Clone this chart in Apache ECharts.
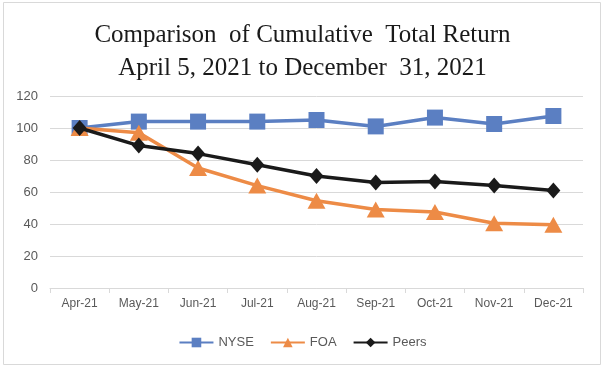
<!DOCTYPE html>
<html><head><meta charset="utf-8">
<script src="https://cdn.jsdelivr.net/npm/echarts@6/dist/echarts.min.js"></script>
<style>html,body{margin:0;padding:0;background:#fff}#c{width:605px;height:369px}</style>
</head><body><div id="c"></div>
<script>
const categories = ['Apr-21','May-21','Jun-21','Jul-21','Aug-21','Sep-21','Oct-21','Nov-21','Dec-21'];
const nyse = [100, 104, 104, 104, 105, 101, 106.5, 102.5, 107.5];
const foa = [100, 97, 75, 64, 54.5, 49, 47.5, 40.5, 39.5];
const peers = [100, 89, 84, 77, 70, 66, 66.5, 64, 61];
const titleLines = ['Comparison  of Cumulative  Total Return', 'April 5, 2021 to December  31, 2021'];

const chart = echarts.init(document.getElementById('c'));
chart.setOption({
  backgroundColor: '#fff',
  animation: false,
  graphic: [{type:'rect', shape:{x:3.5,y:2.5,width:597,height:362}, style:{fill:'none', stroke:'#d9d9d9', lineWidth:1}, silent:true}],
  title: {
    text: titleLines.join('\n'), left: 'center', top: 14,
    textStyle: {fontFamily: 'Liberation Serif', fontSize: 25, fontWeight: 'normal', color: '#1a1a1a', lineHeight: 33}
  },
  grid: {left: 50, right: 22, top: 96, bottom: 81},
  legend: {
    bottom: 15, left: 'center', itemWidth: 34, itemHeight: 12, itemGap: 16,
    textStyle: {fontFamily: 'Liberation Sans', fontSize: 13, color: '#595959'},
    data: ['NYSE','FOA','Peers']
  },
  xAxis: {
    type: 'category', data: categories, boundaryGap: true,
    axisLine: {lineStyle: {color: '#d9d9d9'}},
    axisTick: {show: true, lineStyle: {color: '#d9d9d9'}, length: 5},
    axisLabel: {color: '#595959', fontFamily: 'Liberation Sans', fontSize: 12, margin: 10}
  },
  yAxis: {
    type: 'value', min: 0, max: 120, interval: 20,
    axisLine: {show: false}, axisTick: {show: false},
    splitLine: {lineStyle: {color: '#d9d9d9'}},
    axisLabel: {color: '#595959', fontFamily: 'Liberation Sans', fontSize: 13, margin: 12}
  },
  series: [
    {name:'NYSE', type:'line', data: nyse, symbol:'rect', symbolSize:16, lineStyle:{width:3.5,color:'#5b7fc2'}, itemStyle:{color:'#5b7fc2'}, z:2},
    {name:'FOA', type:'line', data: foa, symbol:'triangle', symbolSize:[18,16], lineStyle:{width:3.5,color:'#ed8b46'}, itemStyle:{color:'#ed8b46'}, z:3},
    {name:'Peers', type:'line', data: peers, symbol:'diamond', symbolSize:[14,16], lineStyle:{width:3.5,color:'#1a1a1a'}, itemStyle:{color:'#1a1a1a'}, z:4}
  ]
});
</script></body></html>
